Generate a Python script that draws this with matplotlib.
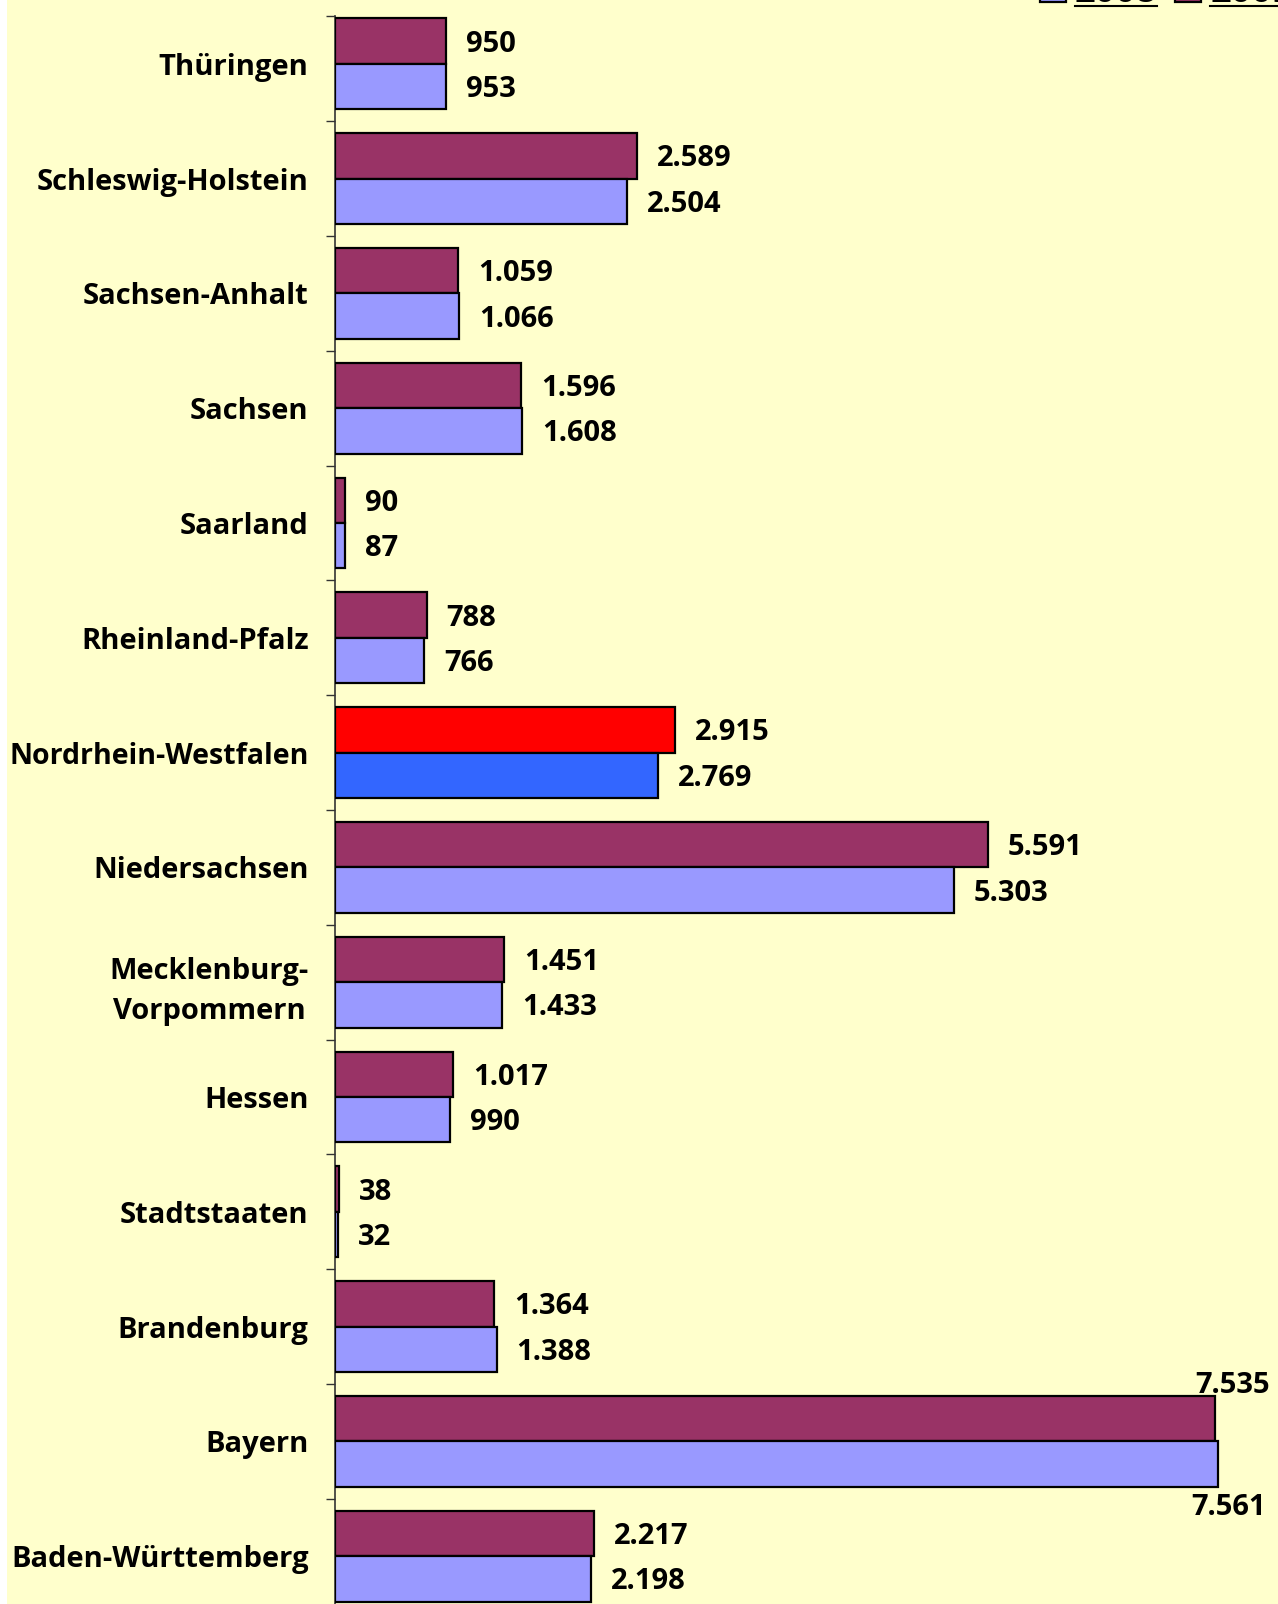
import numpy as np
import matplotlib.pyplot as plt
from matplotlib.patches import Rectangle, Patch
from matplotlib.lines import Line2D

# data (top to bottom as in chart)
laender = ["Thüringen", "Schleswig-Holstein", "Sachsen-Anhalt", "Sachsen", "Saarland",
           "Rheinland-Pfalz", "Nordrhein-Westfalen", "Niedersachsen", "Mecklenburg-\nVorpommern",
           "Hessen", "Stadtstaaten", "Brandenburg", "Bayern", "Baden-Württemberg"]
werte_2009 = [950, 2589, 1059, 1596, 90, 788, 2915, 5591, 1451, 1017, 38, 1364, 7535, 2217]
werte_2008 = [953, 2504, 1066, 1608, 87, 766, 2769, 5303, 1433, 990, 32, 1388, 7561, 2198]
jahre = ["2008", "2009"]

col_2009 = "#993366"
col_2008 = "#9999FF"
hl_2009 = "#FF0000"   # NRW highlighted
hl_2008 = "#3366FF"
bg = "#FFFFCC"

plt.rcParams['font.family'] = ['Open Sans', 'DejaVu Sans']
plt.rcParams['font.weight'] = 'bold'

W, H = 1278, 1604
fig = plt.figure(figsize=(W / 100, H / 100), dpi=100)
fig.patch.set_facecolor("white")
fig.add_artist(Rectangle((7 / W, 0), 1 - 7 / W, 1, transform=fig.transFigure,
                         facecolor=bg, edgecolor="none", zorder=0))

ax_left = 334.6
pitch = 114.8
c0 = 63.8
ytop = (15.7 - c0) / pitch
ybot = (H - c0) / pitch
ax = fig.add_axes([ax_left / W, 0, 1 - ax_left / W, 1 - 15.7 / H])
ax.set_facecolor("none")
px_per_unit = (1217.6 - ax_left) / 7561
ax.set_xlim(0, (W - ax_left) / px_per_unit)
ax.set_ylim(ybot, ytop)

y = np.arange(len(laender))
bh = 0.396
c09 = [hl_2009 if l == "Nordrhein-Westfalen" else col_2009 for l in laender]
c08 = [hl_2008 if l == "Nordrhein-Westfalen" else col_2008 for l in laender]
b09 = ax.barh(y - bh / 2, werte_2009, height=bh, color=c09, edgecolor="black", linewidth=1.6, zorder=3)
b08 = ax.barh(y + bh / 2, werte_2008, height=bh, color=c08, edgecolor="black", linewidth=1.6, zorder=3)

def fmt(v):
    return f"{v:,}".replace(",", ".")

fs = 21
for i in range(len(laender)):
    for v, yy, above in ((werte_2009[i], y[i] - bh / 2, True), (werte_2008[i], y[i] + bh / 2, False)):
        if v > 7000:
            # too long: label placed above/below the bar end
            if above:
                ax.annotate(fmt(v), xy=(v, yy - bh / 2), xytext=(55, 10), textcoords="offset pixels",
                            ha="right", va="center", fontsize=fs, fontweight="bold")
            else:
                ax.annotate(fmt(v), xy=(v, yy + bh / 2), xytext=(48, -21), textcoords="offset pixels",
                            ha="right", va="center", fontsize=fs, fontweight="bold")
        else:
            ax.annotate(fmt(v), xy=(v, yy), xytext=(20, -3), textcoords="offset pixels",
                        ha="left", va="center", fontsize=fs, fontweight="bold")

ax.set_yticks(y)
ax.set_yticklabels(laender, fontsize=fs, fontweight="bold", linespacing=1.5,
                   multialignment="center")
ax.get_yticklabels()[6].set_fontsize(20.5)
ax.set_yticks(list(np.arange(len(laender) - 1) + 0.5) + [ytop], minor=True)
ax.tick_params(axis="y", which="major", length=0, pad=26 * 0.72)
ax.tick_params(axis="y", which="minor", length=9 * 0.72, width=1, color="#333333")
ax.xaxis.set_visible(False)
for s in ("top", "right", "bottom"):
    ax.spines[s].set_visible(False)
ax.spines["left"].set_linewidth(1.2)
ax.spines["left"].set_color("#333333")

# legend, mostly cut off at the top edge like in the original
handles = [Patch(facecolor=col_2008, edgecolor="black", linewidth=1.6),
           Patch(facecolor=col_2009, edgecolor="black", linewidth=1.6)]
leg = fig.legend(handles, jahre, loc="lower left", bbox_to_anchor=(1040 / W, (H - 11) / H), ncol=2,
                 frameon=False, fontsize=26, handlelength=0.72, handleheight=0.72,
                 columnspacing=0.5, handletextpad=0.25, borderaxespad=0, borderpad=0)
fig.canvas.draw()
for t in leg.get_texts():
    bb = t.get_window_extent()
    fig.add_artist(Line2D([bb.x0 / W, bb.x1 / W], [(H - 6) / H, (H - 6) / H], color="black", lw=1.5))

fig.savefig("out.png", dpi=100, facecolor=fig.get_facecolor())
